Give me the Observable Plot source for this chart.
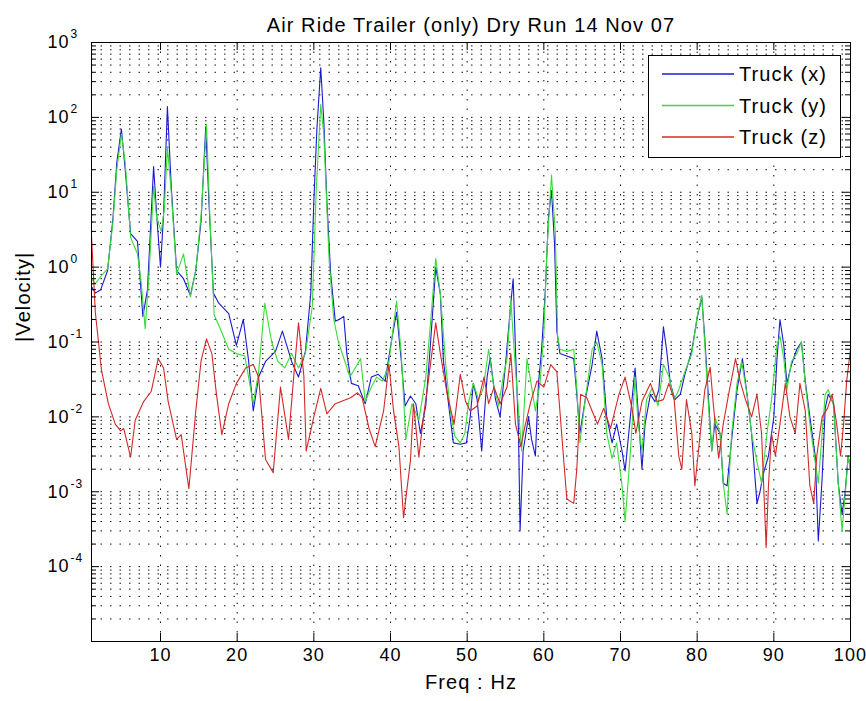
<!DOCTYPE html>
<html><head><meta charset="utf-8">
<script src="https://cdn.jsdelivr.net/npm/d3@7"></script>
<script src="https://cdn.jsdelivr.net/npm/@observablehq/plot@0.6"></script>
<style>
html,body{margin:0;padding:0;background:#fff;}
#chart{position:relative;width:866px;height:701px;}
#chart svg text{letter-spacing:1.1px;}
</style></head><body><div id="chart"></div>
<script>
// [frequency Hz, |velocity|]
const truckX = [[1,0.55],[1.5,0.45],[2.2,0.5],[3.1,0.9],[3.8,4.5],[4.3,25],[4.9,70],[5.4,20],[6.1,2.8],[7.0,2.2],[7.7,0.22],[8.3,0.5],[9.1,22],[9.5,5],[10.0,1.0],[10.4,5],[10.9,140],[11.4,12],[12.1,0.9],[13.0,0.7],[13.9,0.42],[14.6,0.9],[15.3,4.2],[15.9,75],[16.3,8],[16.9,0.45],[17.6,0.33],[18.9,0.24],[19.9,0.09],[20.8,0.2],[21.5,0.055],[22.1,0.012],[22.8,0.034],[23.7,0.055],[25.0,0.075],[25.9,0.14],[27.1,0.055],[28.0,0.034],[28.9,0.075],[29.6,0.44],[30.0,7.5],[30.4,70],[30.9,460],[31.3,90],[31.7,7.5],[32.2,0.8],[32.8,0.19],[33.3,0.2],[33.9,0.22],[34.3,0.07],[34.9,0.028],[35.8,0.026],[36.7,0.015],[37.5,0.034],[38.4,0.037],[39.3,0.03],[40.1,0.1],[40.8,0.25],[41.4,0.057],[41.9,0.014],[42.6,0.019],[43.3,0.015],[43.9,0.006],[44.6,0.014],[45.2,0.09],[45.9,1.0],[46.5,0.44],[46.9,0.057],[47.6,0.014],[48.2,0.0045],[49.1,0.0043],[49.9,0.0045],[50.4,0.01],[50.8,0.028],[51.3,0.017],[51.9,0.0035],[52.6,0.034],[53.0,0.062],[53.7,0.017],[54.3,0.01],[55.0,0.05],[55.6,0.26],[56.0,0.7],[56.3,0.08],[56.7,0.006],[56.9,0.0003],[57.3,0.0035],[58.0,0.01],[58.4,0.005],[58.9,0.003],[59.3,0.028],[59.7,0.077],[60.2,0.5],[60.6,4.6],[61.0,10.5],[61.4,2],[61.7,0.14],[62.1,0.07],[63.0,0.065],[63.9,0.06],[64.3,0.02],[64.7,0.006],[65.4,0.017],[66.3,0.05],[66.9,0.14],[67.6,0.06],[68.2,0.01],[68.9,0.0045],[69.5,0.008],[70.2,0.0035],[70.6,0.0019],[71.0,0.005],[71.9,0.045],[72.3,0.012],[72.8,0.002],[73.2,0.008],[73.9,0.02],[74.5,0.016],[75.0,0.023],[75.6,0.16],[76.0,0.08],[76.5,0.028],[77.1,0.017],[77.8,0.02],[78.4,0.037],[79.3,0.077],[80.0,0.21],[80.6,0.4],[81.0,0.11],[81.5,0.016],[81.9,0.0035],[82.3,0.008],[83.0,0.006],[83.4,0.0013],[83.9,0.0012],[84.5,0.005],[85.2,0.023],[85.9,0.06],[86.5,0.02],[87.1,0.006],[87.8,0.0007],[88.2,0.001],[88.6,0.0017],[89.3,0.003],[90.0,0.01],[90.4,0.057],[90.8,0.2],[91.3,0.09],[91.7,0.028],[92.3,0.05],[93.0,0.08],[93.6,0.1],[94.1,0.03],[94.7,0.01],[95.4,0.003],[95.8,0.00022],[96.3,0.0015],[96.7,0.013],[97.1,0.02],[97.8,0.015],[98.4,0.0013],[98.9,0.0005],[99.3,0.001],[99.7,0.003],[100,0.002]];

const truckY = [[1,0.7],[1.5,0.6],[2.2,0.75],[3.1,0.95],[3.8,4],[4.3,20],[4.9,60],[5.4,25],[6.1,2.5],[7.0,1.5],[7.5,0.6],[8.0,0.15],[8.5,0.8],[9.1,12],[9.5,4.5],[10.1,3],[10.5,6],[10.9,40],[11.4,10],[12.1,0.8],[13.0,1.5],[13.9,0.4],[14.6,0.9],[15.3,5],[16.0,80],[16.4,6],[17.0,0.23],[17.8,0.15],[18.9,0.08],[19.9,0.07],[21.0,0.065],[22.1,0.015],[22.8,0.04],[23.6,0.33],[24.5,0.1],[25.3,0.055],[26.2,0.045],[27.1,0.07],[28.0,0.045],[28.9,0.07],[29.8,0.3],[30.3,10],[30.9,150],[31.3,60],[32.0,1.2],[32.6,0.2],[33.2,0.1],[34.0,0.057],[34.7,0.034],[35.4,0.045],[36.1,0.06],[36.7,0.016],[37.5,0.025],[38.2,0.034],[38.9,0.03],[39.7,0.045],[40.4,0.17],[40.8,0.35],[41.4,0.07],[42.0,0.005],[42.8,0.015],[43.7,0.009],[44.6,0.034],[45.2,0.17],[45.9,1.3],[46.5,0.44],[47.2,0.05],[47.8,0.012],[48.4,0.0055],[49.1,0.0045],[49.7,0.006],[50.2,0.016],[50.8,0.028],[51.5,0.017],[52.1,0.024],[52.8,0.08],[53.4,0.028],[54.1,0.014],[54.7,0.034],[55.2,0.06],[55.7,0.36],[56.2,0.06],[56.7,0.012],[57.1,0.0035],[57.8,0.06],[58.2,0.034],[58.9,0.012],[59.5,0.028],[60.0,0.13],[60.4,1.65],[61.0,17],[61.5,2.8],[61.8,0.12],[62.1,0.08],[63.0,0.075],[63.9,0.08],[64.3,0.024],[64.7,0.0045],[65.4,0.017],[66.3,0.08],[66.9,0.1],[67.6,0.05],[68.2,0.006],[68.9,0.0028],[69.5,0.0045],[70.2,0.0012],[70.6,0.0004],[71.3,0.0035],[71.9,0.034],[72.3,0.008],[72.8,0.0035],[73.4,0.017],[74.1,0.024],[74.9,0.014],[75.6,0.05],[76.3,0.035],[77.0,0.017],[77.6,0.023],[78.4,0.04],[79.3,0.07],[80.0,0.22],[80.6,0.42],[81.0,0.09],[81.5,0.013],[81.9,0.0035],[82.3,0.01],[83.0,0.006],[83.4,0.0013],[83.9,0.0005],[84.5,0.006],[85.2,0.028],[85.8,0.055],[86.5,0.02],[87.1,0.006],[87.8,0.0025],[88.4,0.0013],[89.1,0.006],[89.7,0.017],[90.4,0.09],[90.8,0.12],[91.3,0.06],[91.7,0.023],[92.3,0.055],[93.0,0.07],[93.6,0.1],[94.1,0.028],[94.7,0.008],[95.4,0.0025],[95.8,0.0013],[96.3,0.006],[96.7,0.02],[97.1,0.023],[97.8,0.014],[98.4,0.0013],[98.9,0.0003],[99.3,0.0009],[99.7,0.003],[100,0.002]];

const truckZ = [[1,2.6],[1.5,0.25],[2.3,0.042],[3.2,0.015],[4.1,0.008],[4.8,0.0065],[5.2,0.007],[6.1,0.0029],[6.7,0.009],[7.8,0.016],[8.8,0.022],[9.7,0.06],[10.4,0.045],[11.0,0.016],[12.1,0.005],[12.7,0.0058],[13.7,0.0011],[14.6,0.012],[15.3,0.057],[16.0,0.11],[16.7,0.07],[17.3,0.02],[18.0,0.0058],[18.9,0.015],[19.9,0.028],[21.1,0.045],[22.1,0.05],[22.8,0.034],[23.7,0.0027],[24.7,0.0018],[25.65,0.025],[26.7,0.005],[27.4,0.037],[28.0,0.18],[28.7,0.035],[29.0,0.0035],[30.0,0.01],[30.9,0.024],[31.7,0.011],[32.8,0.015],[34.8,0.018],[35.7,0.021],[36.3,0.018],[37.2,0.007],[38.0,0.004],[39.1,0.012],[39.8,0.05],[40.4,0.012],[41.1,0.004],[41.7,0.00045],[42.6,0.0026],[43.0,0.015],[43.7,0.0029],[44.3,0.01],[45.0,0.034],[45.9,0.18],[46.5,0.07],[47.4,0.02],[48.3,0.008],[49.1,0.037],[49.8,0.016],[50.4,0.012],[51.3,0.014],[52.2,0.034],[52.8,0.015],[53.5,0.025],[54.3,0.015],[55.2,0.025],[55.7,0.07],[56.3,0.008],[57.0,0.004],[57.6,0.008],[58.3,0.016],[59.1,0.03],[60.0,0.025],[60.9,0.05],[61.7,0.04],[62.6,0.0026],[63.0,0.0008],[63.9,0.0007],[64.3,0.002],[64.8,0.02],[65.6,0.018],[66.3,0.012],[67.0,0.008],[67.8,0.013],[68.7,0.007],[69.8,0.02],[70.6,0.034],[71.5,0.013],[72.0,0.006],[72.8,0.016],[73.9,0.028],[74.8,0.016],[75.6,0.017],[76.3,0.028],[77.0,0.017],[77.6,0.003],[78.0,0.002],[78.6,0.017],[79.3,0.006],[79.7,0.0012],[80.4,0.006],[81.0,0.023],[81.7,0.046],[82.1,0.015],[82.8,0.0028],[83.4,0.008],[84.1,0.02],[85.0,0.06],[85.6,0.03],[86.3,0.017],[87.1,0.01],[87.8,0.02],[88.4,0.006],[89.0,0.00018],[89.3,0.0012],[89.7,0.006],[90.2,0.003],[90.8,0.008],[91.5,0.028],[92.1,0.01],[92.8,0.006],[93.4,0.028],[94.1,0.012],[94.7,0.0012],[95.2,0.0007],[95.6,0.003],[96.3,0.01],[97.0,0.013],[97.6,0.02],[98.2,0.008],[98.7,0.003],[99.1,0.008],[99.5,0.03],[100,0.08]];

const seriesNames = ["Truck (x)", "Truck (y)", "Truck (z)"];
const seriesColors = ["#1a1ad0", "#38dc38", "#d42828"];
const xTickValues = [10, 20, 30, 40, 50, 60, 70, 80, 90, 100];
const xGridValues = [10, 20, 30, 40, 50, 60, 70, 80, 90];
const yDecades = [1e-4, 1e-3, 1e-2, 1e-1, 1, 10, 100, 1000];
const yExponents = ["-4", "-3", "-2", "-1", "0", "1", "2", "3"];
const titleText = "Air Ride Trailer (only) Dry Run 14 Nov 07";
const xLabelText = "Freq : Hz";
const yLabelText = "|Velocity|";

// grid / tick positions (decades and their 2..9 subdivisions)
const yMinor = [];
const yMajorInner = [];
for (let e = -5; e <= 2; e++) {
  for (let k = 1; k <= 9; k++) {
    const v = k * Math.pow(10, e);
    if (k === 1) { if (e > -5) yMajorInner.push(v); } else yMinor.push(v);
  }
}
const yGrid = yMajorInner.concat(yMinor);

const toRows = (arr) => arr.map(([f, v]) => ({f, v}));
const series = [truckX, truckY, truckZ].map(toRows);
const yTickRows = yDecades.map((v, i) => ({v, exp: yExponents[i]}));

const FONT = "'Liberation Sans', Arial, Helvetica, sans-serif";
const W = 866, H = 701, ML = 91, MR = 16, MT = 42, MB = 60;
const PW = W - ML - MR, PH = H - MT - MB;
const dots = "1.5,8";

const chart = Plot.plot({
  width: W, height: H,
  marginLeft: ML, marginRight: MR, marginTop: MT, marginBottom: MB,
  x: {type: "linear", domain: [1, 100], axis: null},
  y: {type: "log", domain: [1e-5, 1e3], axis: null},
  style: {fontFamily: FONT, background: "white", color: "black", overflow: "visible"},
  marks: [
    Plot.ruleY(yGrid, {y: d => d, stroke: "#111", strokeWidth: 1, strokeDasharray: dots}),
    Plot.ruleX(xGridValues, {x: d => d, stroke: "#111", strokeWidth: 1, strokeDasharray: dots}),
    Plot.line(series[0], {x: "f", y: "v", stroke: seriesColors[0], strokeWidth: 1.1}),
    Plot.line(series[1], {x: "f", y: "v", stroke: seriesColors[1], strokeWidth: 1.1}),
    Plot.line(series[2], {x: "f", y: "v", stroke: seriesColors[2], strokeWidth: 1.1}),
    Plot.frame({stroke: "#000", strokeWidth: 1}),
    // inward ticks
    Plot.ruleX(xGridValues, {x: d => d, stroke: "#000", insetTop: PH - 8}),
    Plot.ruleX(xGridValues, {x: d => d, stroke: "#000", insetBottom: PH - 8}),
    Plot.ruleY(yMajorInner, {y: d => d, stroke: "#000", insetRight: PW - 8}),
    Plot.ruleY(yMajorInner, {y: d => d, stroke: "#000", insetLeft: PW - 8}),
    Plot.ruleY(yMinor, {y: d => d, stroke: "#000", insetRight: PW - 5}),
    Plot.ruleY(yMinor, {y: d => d, stroke: "#000", insetLeft: PW - 5}),
    // tick labels
    Plot.text(xTickValues, {x: d => d, text: d => String(d), frameAnchor: "bottom", dy: 19, fontSize: 18, fill: "#000"}),
    Plot.text(yTickRows, {y: "v", text: () => "10", frameAnchor: "left", dx: -44, textAnchor: "start", fontSize: 18, fill: "#000"}),
    Plot.text(yTickRows, {y: "v", text: "exp", frameAnchor: "left", dx: -21, dy: -8, textAnchor: "start", fontSize: 12, fill: "#000"}),
    // titles
    Plot.text([titleText], {text: d => d, frameAnchor: "top", dy: -25, fontSize: 20, fill: "#000"}),
    Plot.text([xLabelText], {text: d => d, frameAnchor: "bottom", dy: 47, fontSize: 20, fill: "#000"}),
    Plot.text([yLabelText], {text: d => d, frameAnchor: "left", dx: -68, rotate: -90, fontSize: 20, fill: "#000"})
  ]
});
document.getElementById("chart").appendChild(chart);

// legend box (MATLAB style, inside the axes at top right)
const svg = d3.select(chart);
const lg = svg.append("g").attr("class", "legend").attr("text-anchor", "start");
const lx = 648, ly = 55, lw = 192, lh = 102;
lg.append("rect").attr("x", lx + 0.5).attr("y", ly + 0.5).attr("width", lw).attr("height", lh)
  .attr("fill", "white").attr("stroke", "black").attr("stroke-width", 1);
seriesNames.forEach((name, i) => {
  const yy = ly + 19 + i * 31.5;
  lg.append("line").attr("x1", lx + 14).attr("x2", lx + 86).attr("y1", yy).attr("y2", yy)
    .attr("stroke", seriesColors[i]).attr("stroke-width", 1.5);
  lg.append("text").attr("x", lx + 91).attr("y", yy + 7).text(name)
    .attr("text-anchor", "start")
    .attr("font-family", FONT).attr("font-size", 20).attr("fill", "#000");
});
</script></body></html>
